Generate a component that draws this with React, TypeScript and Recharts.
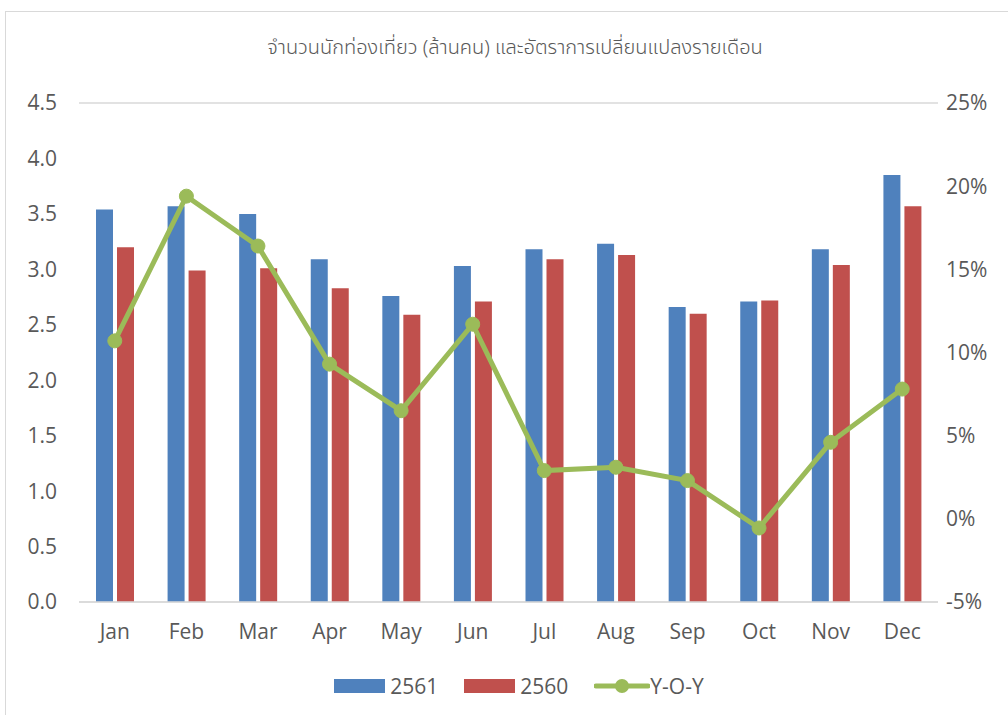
import {
  ComposedChart,
  Bar,
  Line,
  XAxis,
  YAxis,
  CartesianGrid,
} from "recharts";

const months = ["Jan", "Feb", "Mar", "Apr", "May", "Jun", "Jul", "Aug", "Sep", "Oct", "Nov", "Dec"];
const tourists2561 = [3.54, 3.57, 3.5, 3.09, 2.76, 3.03, 3.18, 3.23, 2.66, 2.71, 3.18, 3.85];
const tourists2560 = [3.2, 2.99, 3.01, 2.83, 2.59, 2.71, 3.09, 3.13, 2.6, 2.72, 3.04, 3.57];
const yoy = [10.7, 19.4, 16.4, 9.3, 6.5, 11.7, 2.9, 3.1, 2.3, -0.55, 4.6, 7.8];
const leftTicks = [0, 0.5, 1, 1.5, 2, 2.5, 3, 3.5, 4, 4.5];
const rightTicks = [-5, 0, 5, 10, 15, 20, 25];

const BLUE = "#4f81bd";
const RED = "#c0504d";
const GREEN = "#9bbb59";
const TEXT = "#595959";
const FONT = "'Open Sans', 'Noto Sans', sans-serif";

const data = months.map((m, i) => ({
  month: m,
  a: tourists2561[i],
  b: tourists2560[i],
  yoy: yoy[i],
}));

const tickStyle = { fill: TEXT, fontSize: 21, fontFamily: FONT };

function LegendBox() {
  const item = { display: "flex", alignItems: "center", marginRight: 26 } as const;
  return (
    <div style={{ display: "flex", justifyContent: "center", fontFamily: FONT, fontSize: 21, color: TEXT }}>
      <div style={item}>
        <span style={{ width: 51, height: 14, background: BLUE, display: "inline-block", marginRight: 5 }} />
        2561
      </div>
      <div style={item}>
        <span style={{ width: 51, height: 14, background: RED, display: "inline-block", marginRight: 5 }} />
        2560
      </div>
      <div style={item}>
        <svg width={56} height={20}>
          <line x1={2} y1={10} x2={54} y2={10} stroke={GREEN} strokeWidth={5} strokeLinecap="round" />
          <circle cx={28} cy={10} r={7} fill={GREEN} />
        </svg>
        Y-O-Y
      </div>
    </div>
  );
}

export default function App() {
  return (
    <div style={{ position: "absolute", left: 0, top: 0, width: 1008, height: 715, overflow: "hidden", background: "#fff" }}>
      <div
        style={{
          position: "absolute",
          left: 5,
          top: 11,
          width: 1020,
          height: 720,
          border: "1.5px solid #d9d9d9",
        }}
      />
      <div
        style={{
          position: "absolute",
          top: 33,
          left: 0,
          width: 1030,
          textAlign: "center",
          fontFamily: "'Noto Sans Thai', 'Noto Sans', sans-serif",
          fontSize: 20,
          fontWeight: 300,
          color: TEXT,
        }}
      >
        จำนวนนักท่องเที่ยว (ล้านคน) และอัตราการเปลี่ยนแปลงรายเดือน
      </div>
      <div style={{ position: "absolute", left: 0, top: 0 }}>
        <ComposedChart
          width={1008}
          height={715}
          data={data}
          margin={{ top: 103, right: 0, bottom: 63, left: 0 }}
          barSize={17}
          barGap={4}
        >
          <CartesianGrid vertical={false} stroke="#d9d9d9" strokeWidth={1.5} />
          <XAxis
            dataKey="month"
            height={50}
            tickLine={false}
            axisLine={{ stroke: "#d9d9d9", strokeWidth: 1.5 }}
            tickMargin={16}
            tick={tickStyle}
          />
          <YAxis
            yAxisId="left"
            width={79}
            domain={[0, 4.5]}
            ticks={leftTicks}
            tickFormatter={(v: number) => v.toFixed(1)}
            axisLine={false}
            tickLine={false}
            tickSize={0}
            tickMargin={22}
            tick={tickStyle}
          />
          <YAxis
            yAxisId="right"
            orientation="right"
            width={70}
            domain={[-5, 25]}
            ticks={rightTicks}
            tickFormatter={(v: number) => `${v}%`}
            axisLine={false}
            tickLine={false}
            tickSize={0}
            tickMargin={8}
            tick={tickStyle}
          />
          <Bar yAxisId="left" dataKey="a" name="2561" fill={BLUE} isAnimationActive={false} />
          <Bar yAxisId="left" dataKey="b" name="2560" fill={RED} isAnimationActive={false} />
          <Line
            yAxisId="right"
            dataKey="yoy"
            name="Y-O-Y"
            stroke={GREEN}
            strokeWidth={5}
            dot={{ r: 7, fill: GREEN, stroke: GREEN, strokeWidth: 1 }}
            activeDot={false}
            isAnimationActive={false}
          />
        </ComposedChart>
      </div>
      <div style={{ position: "absolute", top: 672, left: 28, width: 1008 }}>
        <LegendBox />
      </div>
    </div>
  );
}
